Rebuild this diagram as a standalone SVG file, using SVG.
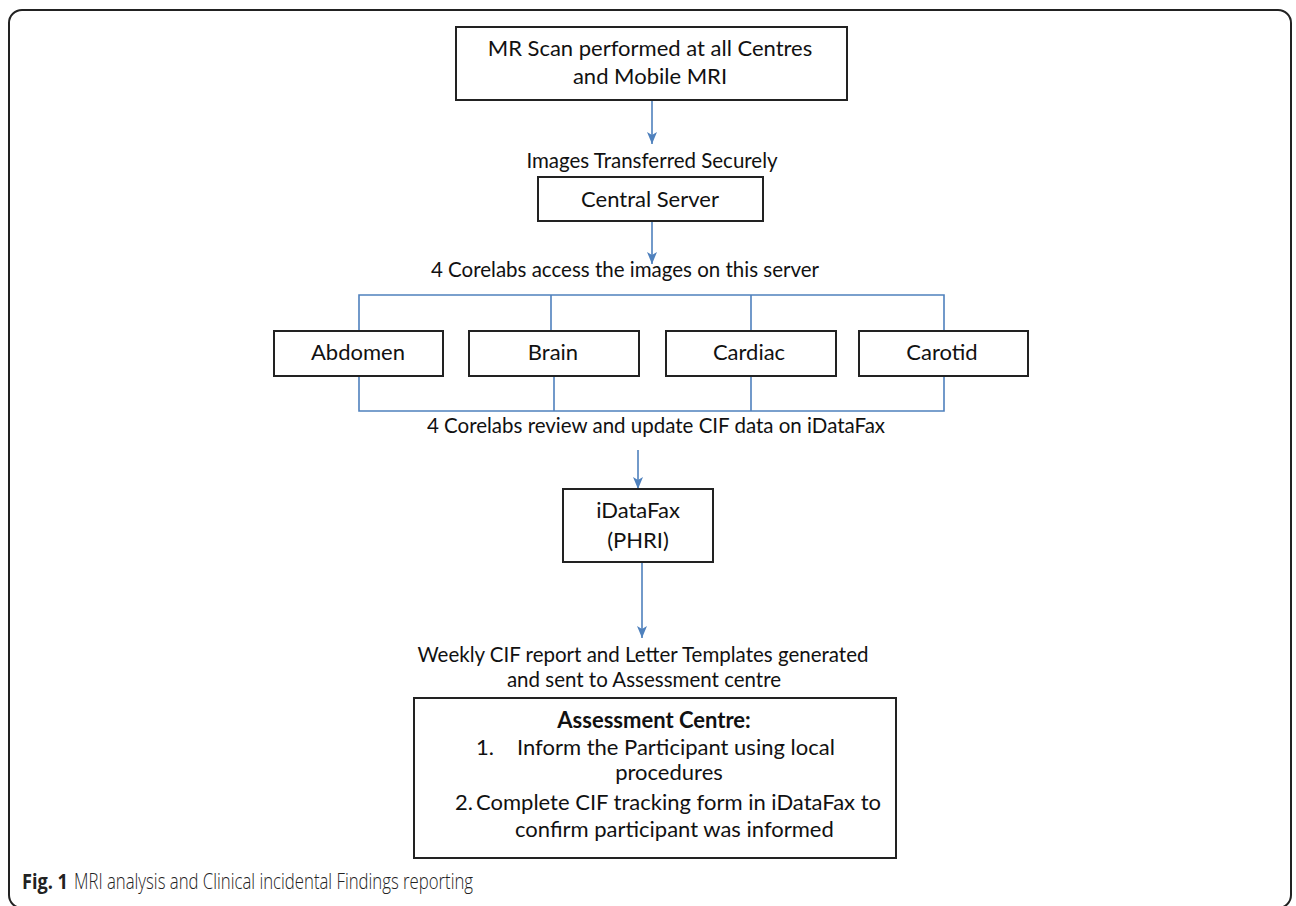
<svg xmlns="http://www.w3.org/2000/svg" width="1296" height="906" viewBox="0 0 1296 906">
<style>
.box{fill:#fff;stroke:#222;stroke-width:2}
.t{font-family:Lato,"Open Sans","Liberation Sans",sans-serif;font-size:22px;fill:#111;text-anchor:middle}
.l{text-anchor:start}
.s{font-family:Lato,"Open Sans","Liberation Sans",sans-serif;font-size:20.5px;fill:#111;text-anchor:middle}
.b{font-weight:bold}
.c{fill:none;stroke:#4F81BD;stroke-width:1.6}
</style>
<defs>
<marker id="ah" markerUnits="userSpaceOnUse" markerWidth="12" markerHeight="10" viewBox="0 0 12 10" refX="12" refY="5" orient="auto">
<path d="M0,0 L12,5 L0,10 L3,5 Z" fill="#4F81BD"/>
</marker>
</defs>
<rect x="9" y="10" width="1282" height="898" rx="13" fill="none" stroke="#222" stroke-width="2"/>
<g id="connectors">
<line class="c" x1="652" y1="101" x2="652" y2="144" marker-end="url(#ah)"/>
<line class="c" x1="652" y1="221" x2="652" y2="264" marker-end="url(#ah)"/>
<path class="c" d="M359,331 V295 H944 V331 M551,295 V331 M751,295 V331"/>
<path class="c" d="M359,376 V411 H944 V376 M554,376 V411 M751,376 V411"/>
<line class="c" x1="638" y1="450" x2="638" y2="489" marker-end="url(#ah)"/>
<line class="c" x1="642" y1="562" x2="642" y2="638" marker-end="url(#ah)"/>
<text class="s" x="652" y="168">Images Transferred Securely</text>
<text class="s" x="625" y="277">4 Corelabs access the  images on this server</text>
<text class="s" x="656" y="433">4 Corelabs review and update CIF data on iDataFax</text>
<text class="s" x="643" y="662">Weekly CIF report and Letter Templates generated</text>
<text class="s" x="644" y="687">and sent to Assessment centre</text>
</g>
<g id="mr-scan">
<rect class="box" x="456" y="27" width="391" height="73"/>
<text class="t" x="650" y="56">MR Scan performed at all Centres</text>
<text class="t" x="650" y="84">and Mobile MRI</text>
</g>
<g id="central-server">
<rect class="box" x="538" y="177" width="225" height="44"/>
<text class="t" x="650" y="207">Central Server</text>
</g>
<g id="abdomen">
<rect class="box" x="274" y="331" width="169" height="45"/>
<text class="t" x="358" y="360">Abdomen</text>
</g>
<g id="brain">
<rect class="box" x="469" y="331" width="170" height="45"/>
<text class="t" x="553" y="360">Brain</text>
</g>
<g id="cardiac">
<rect class="box" x="666" y="331" width="170" height="45"/>
<text class="t" x="749" y="360">Cardiac</text>
</g>
<g id="carotid">
<rect class="box" x="859" y="331" width="169" height="45"/>
<text class="t" x="942" y="360">Carotid</text>
</g>
<g id="idatafax">
<rect class="box" x="563" y="489" width="150" height="73"/>
<text class="t" x="638" y="518">iDataFax</text>
<text class="t" x="638" y="548">(PHRI)</text>
</g>
<g id="assessment-centre">
<rect class="box" x="414" y="698" width="482" height="160"/>
<text class="t b" x="654" y="728">Assessment Centre:</text>
<text class="t l" x="476" y="755">1.</text>
<text class="t l" x="517" y="755">Inform the Participant using local</text>
<text class="t" x="669" y="780">procedures</text>
<text class="t l" x="455" y="810">2.</text>
<text class="t l" x="476" y="810">Complete CIF tracking form in iDataFax to</text>
<text class="t l" x="515" y="837">confirm participant was informed</text>
</g>
<g id="caption">
<text x="22" y="889" font-family="'Open Sans',Lato,'Liberation Sans',sans-serif" font-size="22" fill="#222"><tspan font-weight="bold" textLength="46" lengthAdjust="spacingAndGlyphs">Fig. 1</tspan><tspan x="74" textLength="399" lengthAdjust="spacingAndGlyphs" font-weight="300">MRI analysis and Clinical incidental Findings reporting</tspan></text>
</g>
</svg>
